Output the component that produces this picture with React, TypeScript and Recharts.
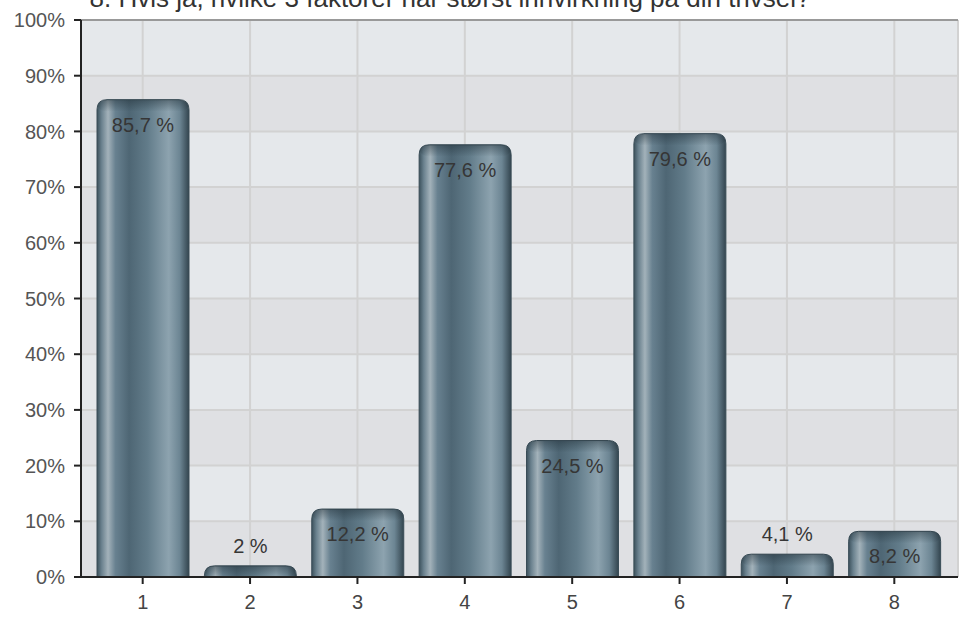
import React from 'react';
import { BarChart, Bar, XAxis, YAxis, CartesianGrid, ReferenceLine, LabelList } from 'recharts';

const title = '8. Hvis ja, hvilke 3 faktorer har størst innvirkning på din trivsel?';
const categories = ['1', '2', '3', '4', '5', '6', '7', '8'];
const values = [85.7, 2, 12.2, 77.6, 24.5, 79.6, 4.1, 8.2];
const yTicks = [0, 10, 20, 30, 40, 50, 60, 70, 80, 90, 100];

const chartData = categories.map((name, i) => ({ name, value: values[i] }));

const fmt = (v: number) => `${String(v).replace('.', ',')} %`;

// cylinder-ish bar with rounded top, gradient fill
const BarShape: React.FC<any> = (props) => {
  const { x, y, width, height, index } = props;
  if (!height || height <= 0) return null;
  const r = Math.min(10, height, width / 2);
  const d = `M${x},${y + height} L${x},${y + r} Q${x},${y} ${x + r},${y} L${x + width - r},${y} Q${x + width},${y} ${x + width},${y + r} L${x + width},${y + height} Z`;
  const gid = `barGrad${index}`;
  const tid = `barTop${index}`;
  return (
    <g>
      <defs>
        <linearGradient id={gid} x1="0" y1="0" x2="1" y2="0">
          <stop offset="0%" stopColor="#3c515c" />
          <stop offset="5%" stopColor="#6a818e" />
          <stop offset="12%" stopColor="#a3b2ba" />
          <stop offset="20%" stopColor="#688190" />
          <stop offset="35%" stopColor="#4e6674" />
          <stop offset="55%" stopColor="#627c8a" />
          <stop offset="78%" stopColor="#8da3af" />
          <stop offset="90%" stopColor="#6c8593" />
          <stop offset="100%" stopColor="#33454f" />
        </linearGradient>
        <linearGradient id={tid} x1="0" y1="0" x2="0" y2="1">
          <stop offset="0%" stopColor="#1e2c34" stopOpacity={0.45} />
          <stop offset="100%" stopColor="#1e2c34" stopOpacity={0} />
        </linearGradient>
      </defs>
      <path d={d} fill={`url(#${gid})`} stroke="#3a4d57" strokeWidth={1} />
      <path d={d} fill={`url(#${tid})`} clipPath="none" opacity={1}
        style={{ display: 'none' }} />
      <rect x={x + 1} y={y} width={width - 2} height={Math.min(12, height)} rx={r} fill={`url(#${tid})`} />
    </g>
  );
};

const BarLabel: React.FC<any> = (props) => {
  const { x, y, width, value } = props;
  const inside = value >= 8;
  return (
    <text
      x={x + width / 2}
      y={inside ? y + 25 : y - 20}
      textAnchor="middle"
      dominantBaseline="central"
      fontSize={20}
      fontFamily="'Liberation Sans', Arial, sans-serif"
      fill="#363636"
    >
      {fmt(value)}
    </text>
  );
};

export default function App() {
  return (
    <div style={{ position: 'absolute', left: 0, top: 0, width: 961, height: 617, background: '#fff' }}>
      <BarChart
        width={961}
        height={617}
        data={chartData}
        margin={{ top: 20, right: 3, bottom: 0, left: 0 }}
      >
        <CartesianGrid
          stroke="#d2d2d2"
          strokeWidth={2}
          horizontalFill={['#e5e8eb', '#dfe0e3']}
          fillOpacity={1}
        />
        <XAxis
          dataKey="name"
          padding={{ left: 8, right: 10 }}
          height={40}
          tickSize={7}
          tickMargin={11}
          axisLine={{ stroke: '#222', strokeWidth: 2 }}
          tickLine={{ stroke: '#222', strokeWidth: 2 }}
          tick={{ fill: '#444', fontSize: 20, fontFamily: "'Liberation Sans', Arial, sans-serif" }}
        />
        <YAxis
          domain={[0, 100]}
          ticks={yTicks}
          width={81}
          tickSize={7}
          tickMargin={9}
          tickFormatter={(v: number) => `${v}%`}
          axisLine={{ stroke: '#222', strokeWidth: 2 }}
          tickLine={{ stroke: '#222', strokeWidth: 2 }}
          tick={{ fill: '#555', fontSize: 20, fontFamily: "'Liberation Sans', Arial, sans-serif" }}
        />
        <YAxis
          yAxisId="border"
          orientation="right"
          domain={[0, 100]}
          width={0}
          tick={false}
          tickLine={false}
          axisLine={{ stroke: '#999', strokeWidth: 2 }}
        />
        <ReferenceLine y={100} stroke="#999" strokeWidth={2} />
        <Bar dataKey="value" barSize={92} shape={<BarShape />} isAnimationActive={false}>
          <LabelList dataKey="value" content={<BarLabel />} />
        </Bar>
      </BarChart>
      <svg width={961} height={30} style={{ position: 'absolute', left: 0, top: 0 }}>
        <text
          x={450}
          y={7}
          textAnchor="middle"
          fontSize={26}
          fontFamily="'Liberation Sans', Arial, sans-serif"
          fill="#333"
        >
          {title}
        </text>
      </svg>
    </div>
  );
}
